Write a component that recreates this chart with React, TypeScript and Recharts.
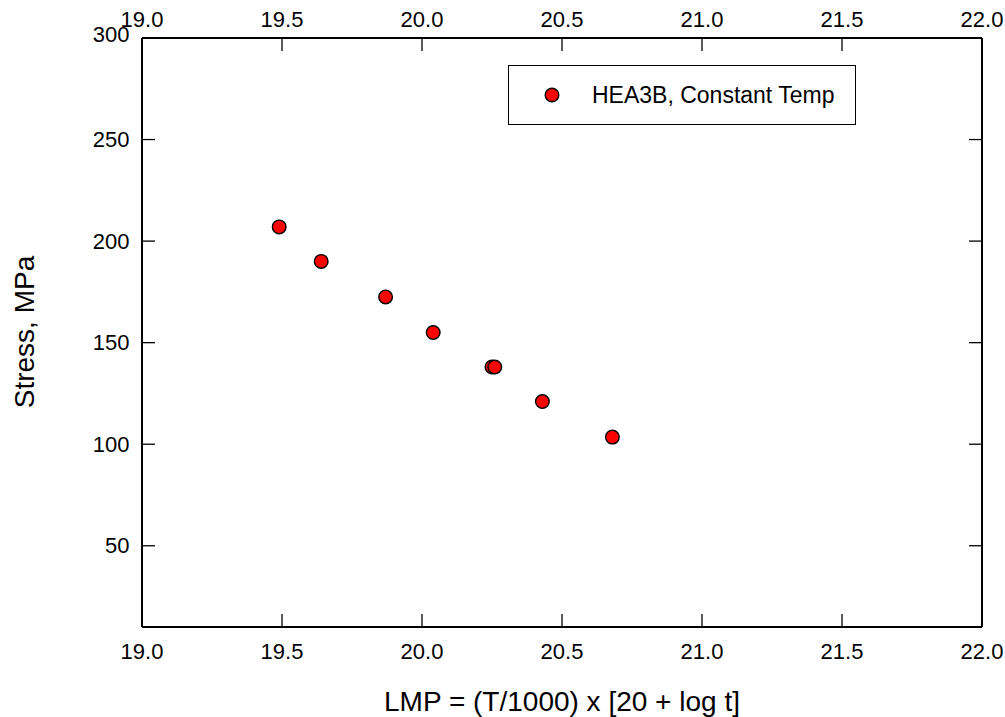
import { ScatterChart, Scatter, XAxis, YAxis, Legend } from 'recharts';

// LMP values and rupture stress
const lmp = [19.49, 19.64, 19.87, 20.04, 20.25, 20.26, 20.43, 20.68];
const stress = [207, 190, 172.5, 155, 138, 138, 121, 103.5];

const xTicks = [19.0, 19.5, 20.0, 20.5, 21.0, 21.5, 22.0];
const yTicks = [50, 100, 150, 200, 250, 300];
const seriesName = 'HEA3B, Constant Temp';

const data = lmp.map((x, i) => ({ x, y: stress[i] }));

const FONT = '"Liberation Sans", Arial, sans-serif';
const TICK = 13;

const BottomTick = ({ x, y, payload }: any) => (
  <g>
    <line x1={x} x2={x} y1={y} y2={y - TICK} stroke="#000" strokeWidth={1.3} />
    <text x={x} y={y + 24} textAnchor="middle" dominantBaseline="central" fontSize={22} fontFamily={FONT} fill="#000">
      {Number(payload.value).toFixed(1)}
    </text>
  </g>
);

const TopTick = ({ x, y, payload }: any) => (
  <g>
    <line x1={x} x2={x} y1={y} y2={y + TICK} stroke="#000" strokeWidth={1.3} />
    <text x={x} y={y - 19} textAnchor="middle" dominantBaseline="central" fontSize={22} fontFamily={FONT} fill="#000">
      {Number(payload.value).toFixed(1)}
    </text>
  </g>
);

const LeftTick = ({ x, y, payload }: any) => (
  <g>
    <line x1={x} x2={x + TICK} y1={y} y2={y} stroke="#000" strokeWidth={1.3} />
    <text x={x - 12.5} y={payload.value === 300 ? y - 4 : y} textAnchor="end" dominantBaseline="central" fontSize={22} fontFamily={FONT} fill="#000">
      {payload.value}
    </text>
  </g>
);

const RightTick = ({ x, y }: any) => (
  <line x1={x} x2={x - TICK} y1={y} y2={y} stroke="#000" strokeWidth={1.3} />
);

const Dot = ({ cx, cy }: any) => (
  <circle cx={cx} cy={cy} r={6.8} fill="#ff0000" stroke="#000" strokeWidth={1.4} />
);

const LegendBox = () => (
  <div style={{
    width: 348, height: 60, boxSizing: 'border-box', border: '1.5px solid #000',
    background: '#fff', position: 'relative', fontFamily: FONT,
  }}>
    <svg width={20} height={20} style={{ position: 'absolute', left: 33, top: 19 }}>
      <circle cx={10} cy={10} r={6.8} fill="#ff0000" stroke="#000" strokeWidth={1.4} />
    </svg>
    <span style={{ position: 'absolute', left: 83, top: 15, fontSize: 23, lineHeight: '28px', color: '#000', whiteSpace: 'nowrap' }}>
      {seriesName}
    </span>
  </div>
);

const axisLine = { stroke: '#000', strokeWidth: 2 };

export default function App() {
  return (
    <div style={{ position: 'absolute', left: 0, top: 0, background: '#fff' }}>
      <ScatterChart width={1005} height={717} margin={{ top: 0, right: 0, bottom: 0, left: 0 }}>
        <XAxis
          xAxisId="bottom" type="number" dataKey="x" orientation="bottom"
          domain={[19, 22]} ticks={xTicks} interval={0} height={90}
          tickSize={0} tickMargin={0} tickLine={false} axisLine={axisLine}
          tick={<BottomTick />} allowDataOverflow
          label={{
            content: () => (
              <text x={562} y={701} textAnchor="middle" dominantBaseline="central" fontSize={28} fontFamily={FONT} fill="#000">
                LMP = (T/1000) x [20 + log t]
              </text>
            ),
          }}
        />
        <XAxis
          xAxisId="top" type="number" dataKey="x" orientation="top"
          domain={[19, 22]} ticks={xTicks} interval={0} height={38}
          tickSize={0} tickMargin={0} tickLine={false} axisLine={axisLine}
          tick={<TopTick />} allowDataOverflow
        />
        <YAxis
          yAxisId="left" type="number" dataKey="y" orientation="left"
          domain={[10, 300]} ticks={yTicks} interval={0} width={142}
          tickSize={0} tickMargin={0} tickLine={false} axisLine={axisLine}
          tick={<LeftTick />} allowDataOverflow
          label={{
            content: () => (
              <text x={24} y={332} transform="rotate(-90, 24, 332)" textAnchor="middle" dominantBaseline="central" fontSize={28} fontFamily={FONT} fill="#000">
                Stress, MPa
              </text>
            ),
          }}
        />
        <YAxis
          yAxisId="right" type="number" dataKey="y" orientation="right"
          domain={[10, 300]} ticks={yTicks} interval={0} width={23}
          tickSize={0} tickMargin={0} tickLine={false} axisLine={axisLine}
          tick={<RightTick />} allowDataOverflow
        />
        <Legend
          layout="horizontal" verticalAlign="middle" align="center"
          wrapperStyle={{ left: 508, top: 65, width: 348, height: 60 }}
          content={() => <LegendBox />}
        />
        <Scatter
          name={seriesName} data={data} xAxisId="bottom" yAxisId="left"
          shape={<Dot />} isAnimationActive={false}
        />
      </ScatterChart>
    </div>
  );
}
